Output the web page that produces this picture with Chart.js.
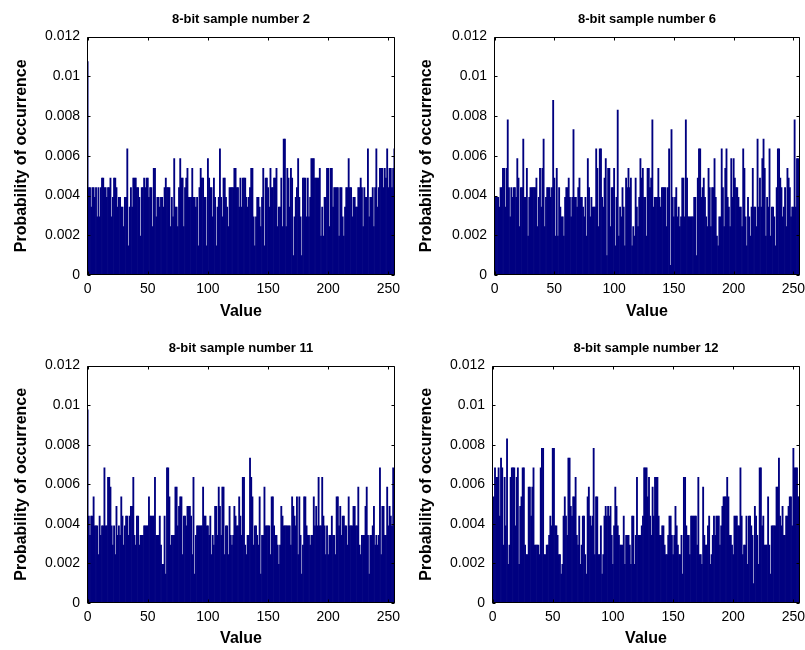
<!DOCTYPE html>
<html>
<head>
<meta charset="utf-8">
<script src="https://cdn.jsdelivr.net/npm/chart.js@4.4.1/dist/chart.umd.min.js"></script>
<style>
  body { margin: 0; background: #fff; overflow: hidden; }
  #wrap { position: relative; width: 805px; height: 650px; overflow: hidden; }
  canvas { position: absolute; }
</style>
</head>
<body>
<div id="wrap">
  <canvas id="chart2" width="482" height="325" style="left:0;top:0"></canvas>
  <canvas id="chart6" width="484" height="325" style="left:405px;top:0"></canvas>
  <canvas id="chart11" width="482" height="321" style="left:0;top:329px"></canvas>
  <canvas id="chart12" width="482" height="321" style="left:405px;top:329px"></canvas>
</div>
<script>
// pixel values 0..255 (one bar each)
const values = Array.from({ length: 256 }, (_, i) => i);

// counts per value, each image has 2048 samples
const samplesPerImage = 2048;

const sample2 = [
  22,9,9,7,9,9,8,9,6,9,
  6,9,10,10,9,9,8,9,9,10,
  6,8,10,10,9,7,8,8,7,7,
  5,8,8,13,3,7,9,7,10,10,
  10,9,9,8,4,9,9,10,9,10,
  10,8,9,9,5,11,11,6,8,8,
  7,8,8,7,9,10,9,9,9,5,
  8,6,12,7,7,5,9,12,10,10,
  5,9,10,11,8,8,8,11,8,8,
  7,8,3,9,11,10,10,8,8,3,
  12,10,9,9,6,10,8,3,7,8,
  13,8,6,10,10,8,7,5,9,9,
  9,9,11,11,9,9,7,10,7,10,
  10,10,8,7,8,9,11,11,6,3,
  6,8,8,7,5,8,11,3,10,10,
  9,7,11,9,9,10,10,11,5,7,
  7,10,5,14,14,5,11,10,7,11,
  10,2,6,8,9,12,8,6,2,10,
  10,10,6,10,6,8,12,12,12,10,
  10,10,10,11,4,7,4,8,8,11,
  11,5,11,11,7,9,9,9,9,4,
  9,9,6,4,7,9,9,12,9,9,
  6,8,8,7,7,9,9,10,9,5,
  9,8,8,13,6,8,8,9,5,9,
  13,7,9,11,11,11,9,11,10,13,
  9,11,11,9,11,13
];

const sample6 = [
  4,8,8,8,7,9,9,11,11,7,
  11,16,9,6,9,8,9,9,8,12,
  10,5,9,9,14,8,8,11,4,8,
  9,9,9,9,9,10,5,8,11,7,
  11,14,5,8,9,9,9,8,9,18,
  10,4,11,4,9,7,6,6,4,8,
  9,9,10,8,6,8,15,8,8,7,
  9,10,8,8,7,6,8,4,12,9,
  6,8,7,7,7,13,11,5,13,13,
  8,7,10,12,2,11,11,5,9,9,
  11,3,8,17,4,7,6,9,7,3,
  10,9,11,9,10,3,5,4,10,7,
  5,8,12,10,11,8,8,4,11,11,
  9,10,16,7,8,8,8,11,8,7,
  9,9,9,9,5,9,13,1,15,8,
  6,8,9,6,7,5,6,10,10,6,
  16,10,6,6,6,6,6,8,8,2,
  10,13,13,8,9,10,8,6,5,11,
  9,5,9,9,12,8,4,3,6,6,
  13,9,5,11,13,8,7,5,12,8,
  12,10,9,9,8,7,7,5,13,11,
  6,3,8,6,4,7,11,7,7,5,
  14,7,10,7,12,14,11,4,8,7,
  13,4,7,7,6,3,9,13,13,10,
  9,6,7,9,5,11,10,9,6,7,
  7,16,7,12,12,4
];

const sample11 = [
  20,9,7,9,9,11,8,8,8,5,
  9,7,8,8,14,8,8,13,13,12,
  8,6,8,5,10,7,8,7,11,9,
  6,8,9,9,7,9,10,10,13,7,
  6,9,9,6,7,7,7,8,8,8,
  8,11,9,9,9,9,13,7,7,7,
  9,6,4,4,9,3,14,14,11,6,
  7,7,7,12,12,8,10,11,11,5,
  9,9,8,10,10,10,9,5,13,3,
  7,8,8,8,8,8,12,9,9,8,
  8,7,9,5,7,6,10,10,7,12,
  10,7,12,12,5,8,8,5,10,7,
  6,7,10,9,8,8,11,9,7,13,
  13,6,5,7,7,15,13,11,6,8,
  8,7,6,11,3,7,7,12,8,8,
  8,8,5,11,11,8,7,7,6,4,
  6,10,9,8,8,8,8,8,8,6,
  11,10,9,8,11,5,11,7,3,6,
  11,11,8,7,7,6,7,7,11,8,
  10,8,13,8,8,13,9,8,5,8,
  5,7,7,9,7,7,5,11,11,8,
  10,7,9,9,8,8,6,11,8,8,
  8,10,10,8,8,12,6,5,7,7,
  7,10,12,7,3,7,7,8,10,6,
  7,6,7,14,5,10,10,7,7,12,
  8,10,9,8,14,8
];

const sample12 = [
  3,11,14,13,13,14,9,15,14,6,
  13,8,17,4,6,13,14,14,14,8,
  13,14,4,10,11,14,14,6,5,5,
  12,12,9,12,14,6,6,6,6,5,
  14,16,16,5,5,6,6,7,9,8,
  16,16,8,8,7,5,5,3,4,9,
  11,9,7,15,15,10,9,11,11,13,
  7,6,9,4,6,9,9,5,3,11,
  12,9,8,9,16,5,11,11,5,5,
  8,3,5,9,10,9,10,9,10,7,
  4,8,12,10,8,7,6,6,6,9,
  4,7,7,7,6,4,9,9,4,7,
  13,7,7,7,8,9,14,14,14,11,
  13,9,7,12,9,13,13,13,9,7,
  7,8,8,6,5,5,7,9,9,7,
  5,7,10,8,6,5,5,7,3,13,
  13,8,7,7,5,9,9,9,9,9,
  6,13,5,5,4,12,7,6,6,8,
  9,4,5,7,9,7,9,9,9,6,
  8,10,11,11,11,13,11,7,7,6,
  5,9,9,9,8,8,14,9,5,6,
  6,9,4,9,9,8,7,2,10,9,
  7,4,14,14,8,9,6,6,6,11,
  6,3,8,8,8,8,12,12,15,9,
  8,10,7,7,9,9,10,11,11,8,
  16,14,14,14,11,11
];

const xTicks = [0, 50, 100, 150, 200, 250];
const yTicks = [0, 0.002, 0.004, 0.006, 0.008, 0.01, 0.012];
const yTickLabels = ['0', '0.002', '0.004', '0.006', '0.008', '0.01', '0.012'];

const fontFamily = '"Liberation Sans", Arial, sans-serif';

// matlab style box with inward tick marks
const boxPlugin = {
  id: 'box',
  afterDraw(chart) {
    const { ctx, chartArea: a, scales } = chart;
    const l = Math.round(a.left) + 0.5, r = Math.round(a.right) - 0.5;
    const t = Math.round(a.top) + 0.5, b = Math.round(a.bottom) - 0.5;
    ctx.save();
    ctx.strokeStyle = '#000';
    ctx.lineWidth = 1;
    ctx.beginPath();
    ctx.rect(l, t, r - l, b - t);
    scales.x.ticks.forEach(tk => {
      const px = Math.round(scales.x.getPixelForValue(tk.value)) + 0.5;
      ctx.moveTo(px, b); ctx.lineTo(px, b - 3);
      ctx.moveTo(px, t); ctx.lineTo(px, t + 3);
    });
    scales.y.ticks.forEach(tk => {
      const py = Math.round(scales.y.getPixelForValue(tk.value)) + 0.5;
      ctx.moveTo(l, py); ctx.lineTo(l + 3, py);
      ctx.moveTo(r, py); ctx.lineTo(r - 3, py);
    });
    ctx.stroke();
    ctx.restore();
  }
};

function createHist(canvas, title, counts, yAxisWidth, padRight, xAxisHeight, valuePad) {
  new Chart(canvas, {
    type: 'bar',
    data: {
      datasets: [{
        data: values.map((v, i) => ({ x: v, y: counts[i] / samplesPerImage })),
        backgroundColor: '#000080',
        borderWidth: 0,
        barPercentage: 1,
        categoryPercentage: 1
      }]
    },
    options: {
      responsive: false,
      animation: false,
      devicePixelRatio: 1,
      layout: { padding: { left: 0, right: padRight, top: 0, bottom: 0 } },
      plugins: {
        legend: { display: false },
        tooltip: { enabled: false },
        title: {
          display: true,
          fullSize: false, // centre over the plot box, not the canvas
          text: title,
          color: '#000',
          font: { family: fontFamily, size: 13, weight: 'bold' },
          padding: { top: 12, bottom: 9 }
        }
      },
      scales: {
        x: {
          type: 'linear',
          min: -0.5,
          max: 255.5,
          offset: false,
          grid: { display: false, drawTicks: false },
          border: { display: false },
          afterBuildTicks: axis => { axis.ticks = xTicks.map(v => ({ value: v })); },
          afterFit: scale => { scale.height = xAxisHeight; },
          ticks: { color: '#000', font: { family: fontFamily, size: 14 }, padding: 6, maxRotation: 0, autoSkip: false },
          title: {
            display: true,
            text: 'Value',
            color: '#000',
            font: { family: fontFamily, size: 16, weight: 'bold' },
            padding: { top: 0, bottom: valuePad }
          }
        },
        y: {
          min: 0,
          max: 0.012,
          grid: { display: false, drawTicks: false },
          border: { display: false },
          afterBuildTicks: axis => { axis.ticks = yTicks.map(v => ({ value: v })); },
          afterFit: scale => { scale.width = yAxisWidth; },
          ticks: {
            color: '#000',
            font: { family: fontFamily, size: 14 },
            padding: 7,
            callback: (v, i) => yTickLabels[i]
          },
          title: {
            display: true,
            text: 'Probability of occurrence',
            color: '#000',
            font: { family: fontFamily, size: 16, weight: 'bold' },
            padding: { top: 12, bottom: 0 }
          }
        }
      }
    },
    plugins: [boxPlugin]
  });
}

createHist(document.querySelector('#chart2'), '8-bit sample number 2', sample2, 87, 87, 50, 4);
createHist(document.querySelector('#chart6'), '8-bit sample number 6', sample6, 89, 89, 50, 4);
createHist(document.querySelector('#chart11'), '8-bit sample number 11', sample11, 87, 87, 47, 2);
createHist(document.querySelector('#chart12'), '8-bit sample number 12', sample12, 87, 87, 47, 2);
</script>
</body>
</html>
